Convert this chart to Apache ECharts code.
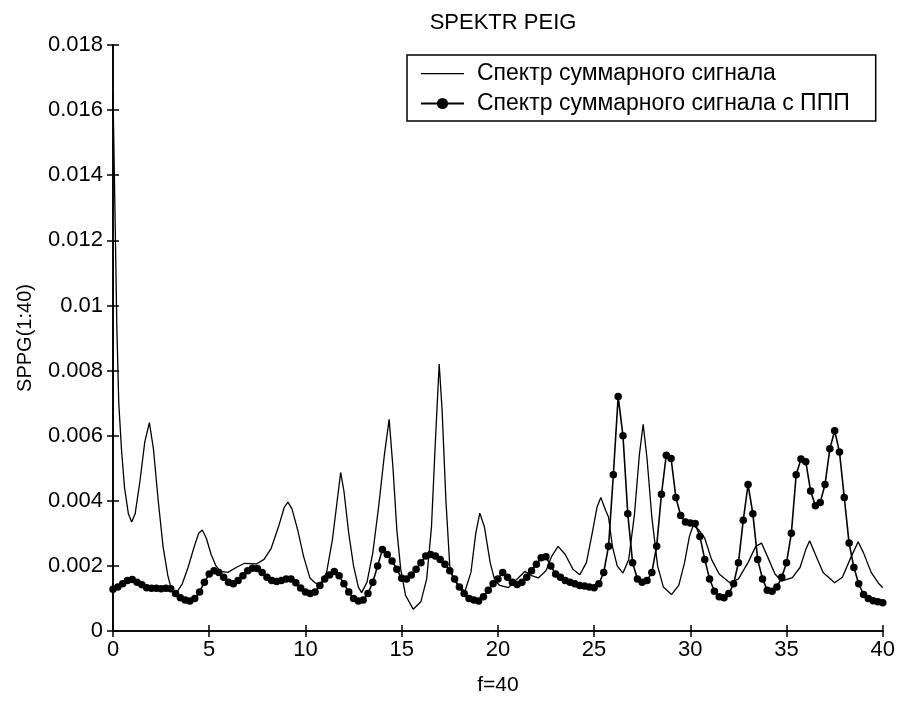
<!DOCTYPE html>
<html>
<head>
<meta charset="utf-8">
<script src="https://cdn.jsdelivr.net/npm/echarts@6/dist/echarts.min.js"></script>
<style>html,body{margin:0;padding:0;background:#fff}#c{width:898px;height:701px}</style>
</head>
<body>
<div id="c"></div>
<script>
// Thin line: "Спектр суммарного сигнала" — [f, value*1e3]
var sumX = [0,0.1,0.2,0.3,0.45,0.6,0.8,0.97,1.15,1.4,1.65,1.89,2.1,2.35,2.6,2.85,3.05,3.3,3.6,3.9,4.2,4.45,4.64,4.85,5.1,5.35,5.6,5.97,6.4,6.84,7.45,7.85,8.22,8.6,8.9,9.09,9.3,9.6,9.9,10.23,10.5,10.75,11.1,11.4,11.65,11.83,12.0,12.25,12.5,12.75,12.92,13.2,13.5,13.8,14.1,14.35,14.55,14.75,14.95,15.2,15.6,16.0,16.3,16.55,16.75,16.95,17.1,17.3,17.5,17.68,18.0,18.29,18.6,18.85,19.06,19.3,19.6,19.84,20.1,20.54,21.0,21.4,21.75,22.1,22.5,22.8,23.13,23.5,23.9,24.26,24.6,24.9,25.15,25.35,25.6,25.75,25.95,26.2,26.5,26.8,27.1,27.35,27.55,27.75,28.0,28.3,28.6,29.02,29.4,29.7,29.95,30.15,30.45,30.75,31.1,31.5,32.05,32.5,33.0,33.4,33.7,34.0,34.4,34.74,35.3,35.7,36.0,36.2,36.5,36.9,37.5,37.9,38.3,38.72,39.0,39.4,39.8,40.0];
var sumY = [16.5,13.0,9.3,7.0,5.5,4.4,3.6,3.35,3.6,4.6,5.8,6.4,5.6,4.0,2.6,1.7,1.25,1.18,1.45,1.95,2.55,3.0,3.1,2.85,2.35,2.0,1.83,1.8,1.95,2.08,2.06,2.2,2.54,3.2,3.8,3.96,3.75,3.1,2.3,1.63,1.48,1.43,1.8,2.8,4.0,4.87,4.3,3.0,2.0,1.35,1.18,1.5,2.4,3.8,5.4,6.5,5.0,3.1,1.9,1.1,0.67,0.9,1.6,3.2,5.8,8.2,6.8,4.0,2.0,1.6,1.35,1.22,1.8,3.0,3.62,3.2,2.1,1.55,1.4,1.33,1.6,1.83,1.7,1.63,1.85,2.3,2.6,2.35,1.9,1.73,2.1,3.0,3.8,4.1,3.7,3.5,2.6,2.0,1.78,2.2,3.6,5.4,6.35,5.3,3.5,2.0,1.35,1.12,1.4,2.1,2.9,3.25,3.1,2.85,2.2,1.75,1.48,1.6,2.1,2.6,2.7,2.3,1.75,1.53,1.64,1.95,2.5,2.77,2.35,1.8,1.48,1.65,2.2,2.74,2.4,1.8,1.45,1.33];
// Marked line: "Спектр суммарного сигнала с ППП" — samples every 0.25 from f=0, value*1e3
var pppStep = 0.25;
var pppY = [1.28,1.35,1.45,1.55,1.58,1.5,1.42,1.33,1.31,1.31,1.30,1.31,1.30,1.15,1.02,0.95,0.92,1.0,1.2,1.5,1.75,1.85,1.8,1.65,1.5,1.45,1.55,1.7,1.85,1.93,1.92,1.8,1.65,1.55,1.52,1.55,1.6,1.6,1.48,1.32,1.2,1.15,1.2,1.4,1.6,1.72,1.83,1.7,1.45,1.2,1.0,0.92,0.95,1.15,1.5,2.0,2.5,2.35,2.15,1.9,1.62,1.6,1.72,1.9,2.1,2.3,2.35,2.3,2.2,2.05,1.85,1.6,1.35,1.15,1.0,0.95,0.92,1.05,1.25,1.45,1.6,1.8,1.65,1.5,1.43,1.5,1.65,1.85,2.05,2.25,2.28,2.0,1.75,1.65,1.55,1.5,1.45,1.4,1.38,1.35,1.33,1.45,1.8,2.6,4.8,7.2,6.0,3.6,2.1,1.6,1.5,1.55,1.8,2.6,4.2,5.4,5.3,4.1,3.55,3.35,3.32,3.3,2.9,2.2,1.6,1.22,1.05,1.02,1.15,1.45,2.1,3.4,4.5,3.6,2.2,1.6,1.25,1.22,1.35,1.65,2.1,3.0,4.8,5.28,5.2,4.3,3.85,3.95,4.5,5.6,6.15,5.5,4.1,2.7,1.95,1.45,1.12,1.0,0.93,0.9,0.87];
var seriesNames = ['Спектр суммарного сигнала', 'Спектр суммарного сигнала с ППП'];
var titleText = 'SPEKTR PEIG';
var xName = 'f=40';
var yName = 'SPPG(1:40)';

var sumData = sumX.map(function (x, i) { return [x, sumY[i] / 1000]; });
var pppData = pppY.map(function (v, i) { return [i * pppStep, v / 1000]; });

var font = 'Liberation Sans, Arial, sans-serif';
var chart = echarts.init(document.getElementById('c'), null, {renderer: 'canvas'});
var axisLine = {show: true, lineStyle: {color: '#000', width: 1.6}};
var tick = {show: true, inside: true, length: 6, lineStyle: {color: '#000', width: 1.5}};
var lineIcon = 'path://M0,0h0.01v0.01h-0.01zM0,6.4h43v1.3h-43zM42.99,13.99h0.01v0.01h-0.01z';
chart.setOption({
  animation: false,
  backgroundColor: '#fff',
  title: {text: titleText, left: 498, textAlign: 'center', top: 7,
    textStyle: {fontFamily: font, fontSize: 22, fontWeight: 'normal', color: '#000'}},
  grid: {left: 113, right: 15, top: 45, bottom: 64},
  legend: {
    left: 407, top: 55, orient: 'vertical',
    itemWidth: 43, itemHeight: 14, itemGap: 7,
    padding: [7, 26, 6, 13],
    borderColor: '#000', borderWidth: 1.5, backgroundColor: '#fff',
    textStyle: {fontFamily: font, fontSize: 23, color: '#000', lineHeight: 22, padding: [0, 0, 0, 8]},
    data: [{name: seriesNames[0], icon: lineIcon}, {name: seriesNames[1]}]
  },
  xAxis: [
    {type: 'value', min: 0, max: 40, interval: 5, position: 'bottom',
      name: xName, nameLocation: 'middle', nameGap: 44,
      nameTextStyle: {fontFamily: font, fontSize: 21, color: '#000'},
      axisLine: axisLine, axisTick: tick, splitLine: {show: false},
      axisLabel: {fontFamily: font, fontSize: 22, color: '#000', margin: 8}},
    {type: 'value', min: 0, max: 40, interval: 5, position: 'top',
      axisLine: axisLine, axisTick: tick, splitLine: {show: false}, axisLabel: {show: false}}
  ],
  yAxis: [
    {type: 'value', min: 0, max: 0.018, interval: 0.002, position: 'left',
      name: yName, nameLocation: 'middle', nameGap: 78,
      nameTextStyle: {fontFamily: font, fontSize: 20, color: '#000'},
      axisLine: axisLine, axisTick: tick, splitLine: {show: false},
      axisLabel: {fontFamily: font, fontSize: 22, color: '#000', margin: 10}},
    {type: 'value', min: 0, max: 0.018, interval: 0.002, position: 'right',
      axisLine: axisLine, axisTick: tick, splitLine: {show: false}, axisLabel: {show: false}}
  ],
  series: [
    {name: seriesNames[0], type: 'line', data: sumData, symbol: 'none',
      lineStyle: {color: '#000', width: 1.3}, itemStyle: {color: '#000'}},
    {name: seriesNames[1], type: 'line', data: pppData, symbol: 'circle', symbolSize: 7.5,
      lineStyle: {color: '#000', width: 1.6}, itemStyle: {color: '#000'}}
  ]
});
</script>
</body>
</html>
